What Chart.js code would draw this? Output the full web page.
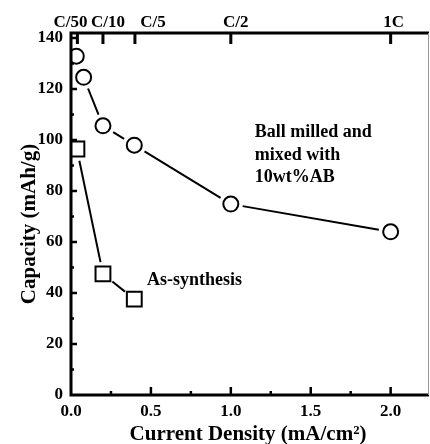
<!DOCTYPE html>
<html>
<head>
<meta charset="utf-8">
<script src="https://cdn.jsdelivr.net/npm/chart.js@4.4.0/dist/chart.umd.min.js"></script>
<style>
  html, body { margin: 0; padding: 0; background: #fff; overflow: hidden; width: 430px; height: 444px; }
  canvas { display: block; }
</style>
</head>
<body>
<canvas id="chart-1" width="430" height="444"></canvas>
<script>
// values
const ballMilledX = [0.033, 0.079, 0.2, 0.396, 1.0, 2.0];
const ballMilledY = [132.9, 124.6, 105.6, 98.0, 74.9, 64.0];
const asSynthX = [0.037, 0.2, 0.396];
const asSynthY = [96.5, 47.5, 37.6];

const xTicks = [0, 0.5, 1.0, 1.5, 2.0];
const xMinorTicks = [0.25, 0.75, 1.25, 1.75];
const yTicks = [0, 20, 40, 60, 80, 100, 120, 140];
const yMinorTicks = [10, 30, 50, 70, 90, 110, 130];
const rateValues = [0.04, 0.2, 0.4, 1.0, 2.0];
const rateLabels = ['C/50', 'C/10', 'C/5', 'C/2', '1C'];

const FONT = '"Liberation Serif", "Times New Roman", serif';
const PLOT_RIGHT = 429;

// the layout keeps some right padding for the last tick label,
// push the plot back out to the window edge like the original
const fillRight = {
  id: 'fillRight',
  afterLayout(chart) {
    chart.chartArea.right = PLOT_RIGHT;
    chart.chartArea.width = PLOT_RIGHT - chart.chartArea.left;
    ['x', 'x2'].forEach(id => {
      const s = chart.scales[id];
      s.right = PLOT_RIGHT;
      s.width = PLOT_RIGHT - s.left;
      s.configure();
    });
  }
};

// Origin-style lines: segments stop short of the markers
const gapLines = {
  id: 'gapLines',
  beforeDatasetsDraw(chart) {
    const ctx = chart.ctx;
    ctx.save();
    ctx.strokeStyle = '#000';
    ctx.lineWidth = 2;
    chart.data.datasets.forEach((ds, i) => {
      const pts = chart.getDatasetMeta(i).data;
      for (let k = 1; k < pts.length; k++) {
        const a = pts[k - 1], b = pts[k];
        const dx = b.x - a.x, dy = b.y - a.y;
        const d = Math.hypot(dx, dy);
        const gap = 12;
        if (d <= gap * 2) continue;
        const ux = dx / d, uy = dy / d;
        ctx.beginPath();
        ctx.moveTo(a.x + ux * gap, a.y + uy * gap);
        ctx.lineTo(b.x - ux * gap, b.y - uy * gap);
        ctx.stroke();
      }
    });
    ctx.restore();
  }
};

// frame, inward ticks, top C-rate labels, axis titles and notes
const frame = {
  id: 'frame',
  afterDraw(chart) {
    const ctx = chart.ctx;
    const { left, right, top, bottom } = chart.chartArea;
    const x = chart.scales.x, y = chart.scales.y;
    ctx.save();
    ctx.strokeStyle = '#000';
    ctx.lineWidth = 3;
    ctx.beginPath();
    ctx.moveTo(right, top); ctx.lineTo(left, top);
    ctx.lineTo(left, bottom); ctx.lineTo(right, bottom);
    ctx.stroke();
    ctx.lineWidth = 1;
    ctx.strokeStyle = '#999';
    ctx.beginPath();
    ctx.moveTo(right - 0.5, top); ctx.lineTo(right - 0.5, bottom);
    ctx.stroke();

    ctx.strokeStyle = '#000';
    ctx.lineWidth = 2.5;
    ctx.beginPath();
    xTicks.forEach(v => { const px = x.getPixelForValue(v); if (v > 0) { ctx.moveTo(px, bottom); ctx.lineTo(px, bottom - 8); } });
    xMinorTicks.forEach(v => { const px = x.getPixelForValue(v); ctx.moveTo(px, bottom); ctx.lineTo(px, bottom - 4); });
    yTicks.forEach(v => { const py = y.getPixelForValue(v); if (v > 0) { ctx.moveTo(left, py); ctx.lineTo(left + 6, py); } });
    yMinorTicks.forEach(v => { const py = y.getPixelForValue(v); ctx.moveTo(left, py); ctx.lineTo(left + 3, py); });
    ctx.stroke();
    ctx.lineWidth = 3;
    ctx.beginPath();
    rateValues.forEach(v => { const px = x.getPixelForValue(v); ctx.moveTo(px, top); ctx.lineTo(px, top + 11); });
    ctx.stroke();

    ctx.fillStyle = '#000';
    ctx.font = 'bold 17px ' + FONT;
    ctx.textAlign = 'center';
    ctx.textBaseline = 'alphabetic';
    const nudge = [-7, 5, 18, 5, 3];
    rateValues.forEach((v, i) => {
      ctx.fillText(rateLabels[i], x.getPixelForValue(v) + nudge[i], top - 6);
    });

    ctx.font = 'bold 21px ' + FONT;
    ctx.fillText('Current Density (mA/cm\u00B2)', (left + right) / 2 - 2, 440);
    ctx.save();
    ctx.translate(35, (top + bottom) / 2 + 10);
    ctx.rotate(-Math.PI / 2);
    ctx.fillText('Capacity (mAh/g)', 0, 0);
    ctx.restore();

    ctx.font = 'bold 18px ' + FONT;
    ctx.textAlign = 'left';
    const bx = x.getPixelForValue(1.15), by = y.getPixelForValue(101.2);
    ['Ball milled and', 'mixed with', '10wt%AB'].forEach((t, i) => ctx.fillText(t, bx, by + i * 22.5));
    ctx.fillText('As-synthesis', x.getPixelForValue(0.475), y.getPixelForValue(43.1));
    ctx.restore();
  }
};

const noPad = (s) => { s.paddingLeft = 0; s.paddingRight = 0; s.paddingTop = 0; s.paddingBottom = 0; };

new Chart(document.getElementById('chart-1'), {
  type: 'scatter',
  data: {
    datasets: [{
      label: 'Ball milled and mixed with 10wt%AB',
      data: ballMilledX.map((v, i) => ({ x: v, y: ballMilledY[i] })),
      pointStyle: 'circle',
      pointRadius: 7.5,
      pointBorderWidth: 2,
      pointBorderColor: '#000',
      pointBackgroundColor: '#fff',
      showLine: false
    }, {
      label: 'As-synthesis',
      data: asSynthX.map((v, i) => ({ x: v, y: asSynthY[i] })),
      pointStyle: 'rect',
      pointRadius: 10.5,
      pointBorderWidth: 2,
      pointBorderColor: '#000',
      pointBackgroundColor: '#fff',
      showLine: false
    }]
  },
  options: {
    responsive: false,
    animation: false,
    devicePixelRatio: 1,
    layout: { padding: { left: 0, right: 1, top: 0, bottom: 0 } },
    plugins: { legend: { display: false }, tooltip: { enabled: false } },
    scales: {
      x: {
        type: 'linear',
        position: 'bottom',
        min: 0,
        max: 2.24,
        afterBuildTicks: (s) => { s.ticks = xTicks.map(v => ({ value: v })); },
        afterFit: (s) => { s.height = 49; noPad(s); },
        grid: { display: false, drawTicks: false },
        border: { display: false },
        ticks: {
          padding: 6,
          color: '#000',
          font: { family: FONT, size: 17, weight: 'bold' },
          callback: (v) => v.toFixed(1),
          maxRotation: 0
        }
      },
      x2: {
        type: 'linear',
        position: 'top',
        min: 0,
        max: 2.24,
        afterFit: (s) => { s.height = 33; noPad(s); },
        grid: { display: false, drawTicks: false },
        border: { display: false },
        ticks: { display: false }
      },
      y: {
        type: 'linear',
        min: 0,
        max: 142,
        afterBuildTicks: (s) => { s.ticks = yTicks.map(v => ({ value: v })); },
        afterFit: (s) => { s.width = 71; noPad(s); },
        grid: { display: false, drawTicks: false },
        border: { display: false },
        ticks: {
          padding: 8,
          color: '#000',
          font: { family: FONT, size: 17, weight: 'bold' }
        }
      }
    }
  },
  plugins: [fillRight, gapLines, frame]
});
</script>
</body>
</html>
